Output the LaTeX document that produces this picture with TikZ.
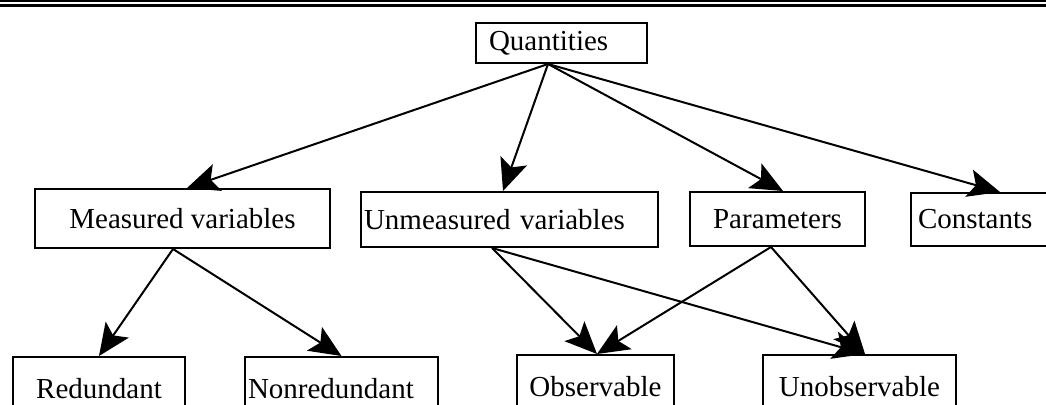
\documentclass[tikz,border=0pt]{standalone}
\usepackage{fontspec}
\setmainfont{Liberation Serif}
\usetikzlibrary{arrows.meta}
\newcommand{\boxfont}{\fontsize{29}{33}\selectfont}

\begin{document}
\begin{tikzpicture}[x=1pt,y=-1pt,
	box/.style={draw, line width=2pt, inner sep=0pt, font=\boxfont},
	lbox/.style={box, align=left, inner xsep=#1},
	link/.style={line width=2pt, -{Stealth[length=32pt, width=28pt, inset=7pt]}}]

	\useasboundingbox (0,0) rectangle (1046,404);
	\clip (0,0) rectangle (1046,404);

	% Doppellinie oben
	\draw [line width=2.3pt] (0,1.2) -- (1046,1.2);
	\draw [line width=3.3pt] (0,5.7) -- (1046,5.7);

	% Kasten
	\node [lbox=13pt, text width=145pt, minimum height=40pt] (quant) at (561.5,43) {Quantities};

	\node [box, minimum width=295pt, minimum height=59pt] (meas) at (182.5,218.5) {Measured variables};
	\node [lbox=3pt, text width=291pt, minimum height=55pt] (unmeas) at (509.5,219.5) {Unmeasured variables};
	\node [box, minimum width=175pt, minimum height=54pt] (param) at (777.5,219) {Parameters};
	\node [lbox=7pt, text width=145pt, minimum height=53pt] (const) at (990.5,219.5) {Constants};

	\node [box, minimum width=172pt, minimum height=63pt] (red) at (99,388.5) {Redundant};
	\node [lbox=3pt, text width=187pt, minimum height=63pt] (nonred) at (341.5,388.5) {Nonredundant};
	\node [box, minimum width=157pt, minimum height=63pt] (obs) at (595.5,386.5) {Observable};
	\node [box, minimum width=193pt, minimum height=63pt] (unobs) at (859.5,386.5) {Unobservable};

	% Pfeile
	\draw [link] ([xshift=-13.5pt]quant.south) -- ([xshift=4.5pt]meas.north);
	\draw [link] ([xshift=-13.5pt]quant.south) -- ([xshift=-6.5pt]unmeas.north);
	\draw [link] ([xshift=-13.5pt]quant.south) -- ([xshift=5.5pt]param.north);
	\draw [link] ([xshift=-13.5pt]quant.south) -- ([xshift=9.5pt]const.north);

	\draw [link] ([xshift=-9.5pt]meas.south) -- (red.north);
	\draw [link] ([xshift=-9.5pt]meas.south) -- (nonred.north);

	\draw [link] ([xshift=-17.5pt]unmeas.south) -- ([xshift=1.5pt]obs.north);
	\draw [link] ([xshift=-17.5pt]unmeas.south) -- ([xshift=5.5pt]unobs.north);
	\draw [link] ([xshift=-6.5pt]param.south) -- ([xshift=1.5pt]obs.north);
	\draw [link] ([xshift=-6.5pt]param.south) -- ([xshift=5.5pt]unobs.north);

\end{tikzpicture}
\end{document}
